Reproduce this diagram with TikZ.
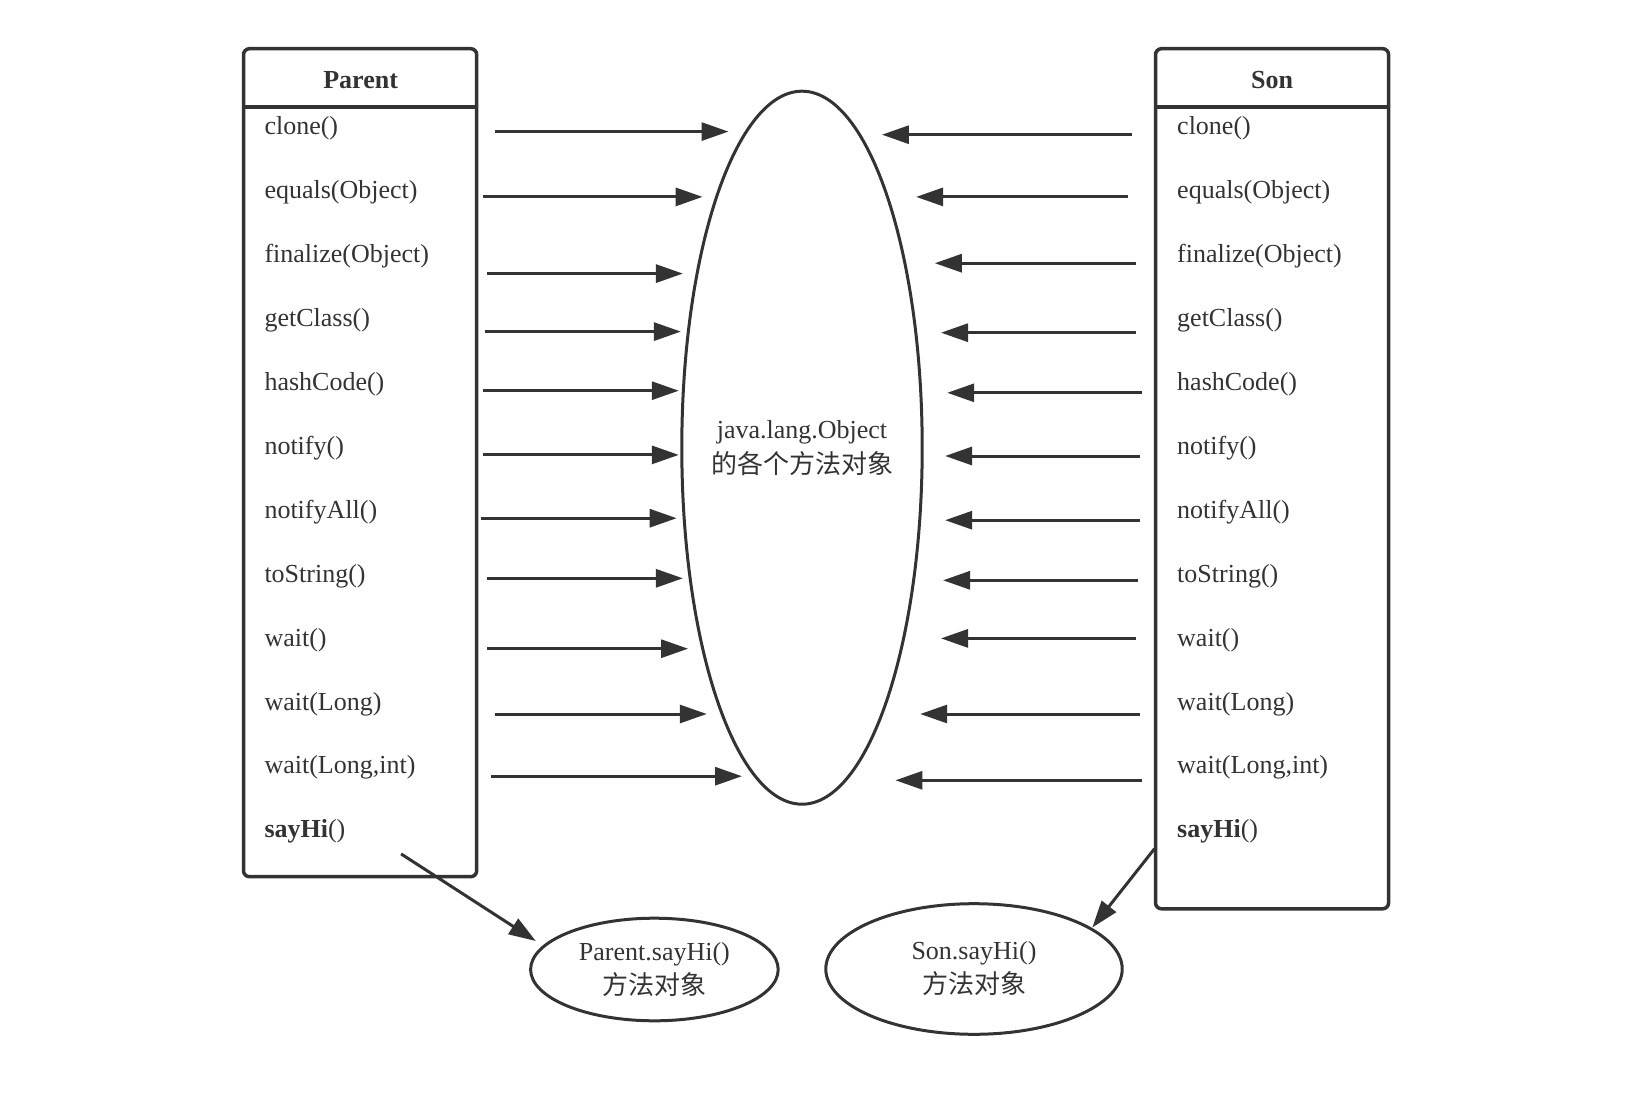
\documentclass[tikz,border=0pt]{standalone}
\usepackage{fontspec}
\setmainfont{Liberation Serif}
\newfontfamily\cjk{Noto Sans CJK SC}
\usepackage{xcolor}
\usepackage{tikz}
\usetikzlibrary{shapes.geometric, arrows.meta}
\definecolor{ink}{HTML}{333333}

\begin{document}
\begin{tikzpicture}[x=1pt,y=-1pt,
  every node/.style={font=\fontsize{26}{32}\selectfont, text=ink},
  classbox/.style={draw=ink, line width=3.5pt, rounded corners=6pt, inner sep=0pt},
  classname/.style={font=\fontsize{26}{32}\selectfont\bfseries},
  method/.style={anchor=base west, inner sep=0pt},
  objnode/.style={ellipse, draw=ink, line width=3pt, inner ysep=0pt, inner xsep=-12pt, align=center},
  call/.style={draw=ink, line width=3pt, -{Triangle[length=27pt,width=18pt]}}]
\useasboundingbox (0,0) rectangle (1628,1118);

\node[classbox, minimum width=233.2pt, minimum height=828pt] (parent) at (360.1,462.7) {};
\node[classbox, minimum width=233.1pt, minimum height=860.1pt] (son) at (1272.05,478.75) {};
\draw[ink, line width=3.5pt] ([yshift=-60.1pt]parent.north west) -- ([yshift=-60.1pt]parent.north east);
\draw[ink, line width=3.5pt] ([yshift=-60.1pt]son.north west) -- ([yshift=-60.1pt]son.north east);
\node[classname] (parentname) at (360.6,79.8) {Parent};
\node[classname] (sonname) at (1272,79.8) {Son};

\foreach \m [count=\i] in {clone(), equals(Object), finalize(Object), getClass(), hashCode(), notify(), notifyAll(), toString(), wait(), wait(Long), {wait(Long,int)}, {\textbf{sayHi}()}} {
  \node[method] (pm\i) at (264.3,71+63.9*\i) {\m};
  \node[method] (sm\i) at (1177,71+63.9*\i) {\m};
}

\node[objnode, minimum width=240.4pt, minimum height=713pt] (object) at (802,447.7) {java.lang.Object\\[3pt]{\cjk 的各个方法对象}};
\node[objnode, minimum width=247.6pt, minimum height=102.6pt] (parenthi) at (654.4,969.5) {Parent.sayHi()\\[2pt]{\cjk 方法对象}};
\node[objnode, minimum width=296.4pt, minimum height=130.6pt] (sonhi) at (974,969) {Son.sayHi()\\[2pt]{\cjk 方法对象}};

% Parent -> Object
\foreach \ya/\xs/\xt [count=\i] in {131.6/495.4/728.5, 196.9/482.9/702.6, 273.6/487.1/682.9, 331.6/485.0/680.9, 390.7/482.9/678.8, 454.9/482.9/678.8, 518.2/480.8/676.7, 578.3/487.1/682.9, 648.7/487.1/688.1, 714.0/495.4/706.8, 776.2/491.2/742.0} {
  \coordinate (ls\i) at (\xs,\ya);
  \coordinate (lt\i) at (\xt,\ya);
  \draw[call] (ls\i) -- (lt\i);
}
% Son -> Object
\foreach \ya/\xs/\xt [count=\i] in {134.7/1131.6/881.9, 196.9/1127.5/916.1, 263.2/1135.8/934.8, 332.7/1135.8/941.0, 392.8/1142.0/947.2, 456.0/1140.0/945.1, 520.2/1140.0/945.1, 580.3/1137.9/943.0, 638.4/1135.8/941.0, 714.0/1140.0/920.2, 780.3/1142.0/895.4} {
  \coordinate (rs\i) at (\xs,\ya);
  \coordinate (rt\i) at (\xt,\ya);
  \draw[call] (rs\i) -- (rt\i);
}

\coordinate (phs) at (401.1,853.9);
\coordinate (pht) at (535.8,941.0);
\coordinate (shs) at (1154.5,848.7);
\coordinate (sht) at (1092.3,927.5);
\draw[call] (phs) -- (pht);
\draw[call] (shs) -- (sht);
\end{tikzpicture}
\end{document}
